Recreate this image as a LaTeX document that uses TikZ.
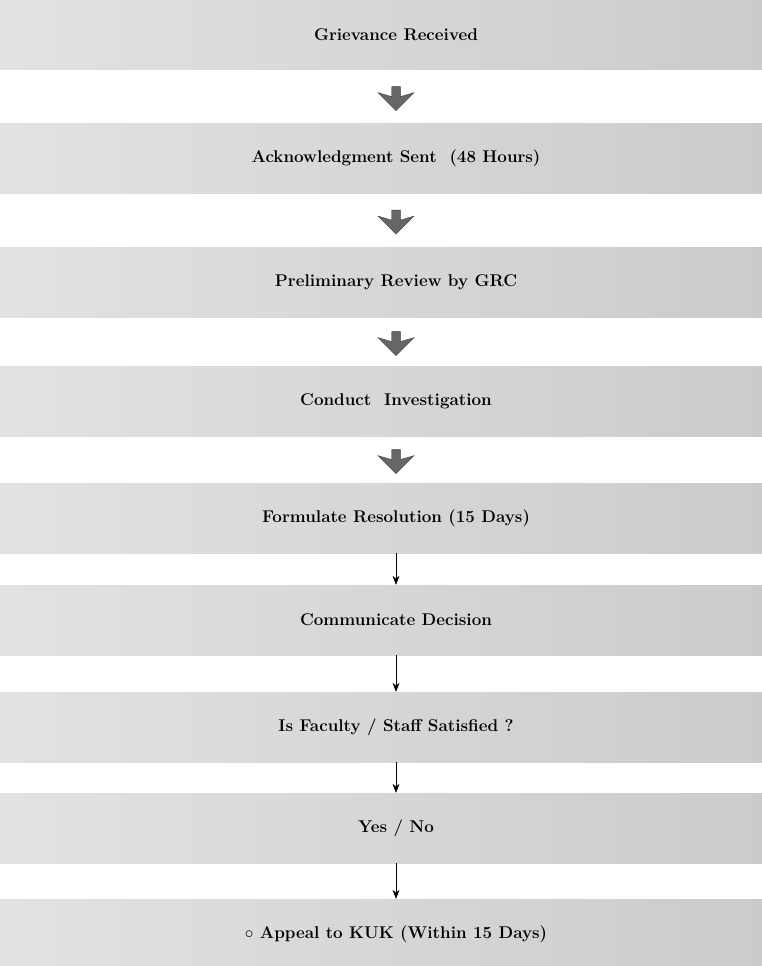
\documentclass[tikz,border=0pt]{standalone}
\usepackage{tikz}
\usetikzlibrary{calc,arrows,arrows.meta,shapes.arrows,positioning}
\tikzset{
    >=stealth',
    banner/.style={
        rectangle,
        left color=black!11,
        right color=black!21,
        draw=none,
        minimum width=840pt,
        minimum height=70pt,
        text centered,
        font={\fontsize{17pt}{20}\selectfont\bfseries}
    },
    blockarrow/.style={
        single arrow,
        shape border rotate=270,
        fill=black!60,
        draw=black!75,
        minimum width=36pt,
        minimum height=24pt,
        single arrow head extend=7pt,
        single arrow head indent=4pt,
        inner sep=2pt
    },
    line/.style={draw, semithick, -{Stealth[length=9pt,width=7pt]}},
}
\begin{document}
\begin{tikzpicture}
[
    x=1pt, y=-1pt,
]
\useasboundingbox[fill=white] (0,0) rectangle (762,966);
\node[banner](rec) at (396, 35){Grievance Received};
\node[banner](ack) at (396, 158){Acknowledgment Sent~ (48 Hours)};
\node[banner](rev) at (396, 282){Preliminary Review by GRC};
\node[banner](inv) at (396, 401){Conduct~ Investigation};
\node[banner](res) at (396, 518){Formulate Resolution (15 Days)};
\node[banner](com) at (396, 620){Communicate Decision};
\node[banner](sat) at (396, 727){Is Faculty / Staff Satisfied ?};
\node[banner](yn) at (396, 828){Yes / No};
\node[banner](app) at (396, 934){$\circ$ Appeal to KUK (Within 15 Days)};
% fat arrows between the top banners
\node[blockarrow](a1) at ($(rec.south)!0.5!(ack.north)$){};
\node[blockarrow](a2) at ($(ack.south)!0.5!(rev.north)$){};
\node[blockarrow](a3) at ($(rev.south)!0.5!(inv.north)$){};
\node[blockarrow](a4) at ($(inv.south)!0.5!(res.north)$){};
% thin arrows below
\draw[line] (res) to (com);
\draw[line] (com) to (sat);
\draw[line] (sat) to (yn);
\draw[line] (yn) to (app);
\end{tikzpicture}
\end{document}
